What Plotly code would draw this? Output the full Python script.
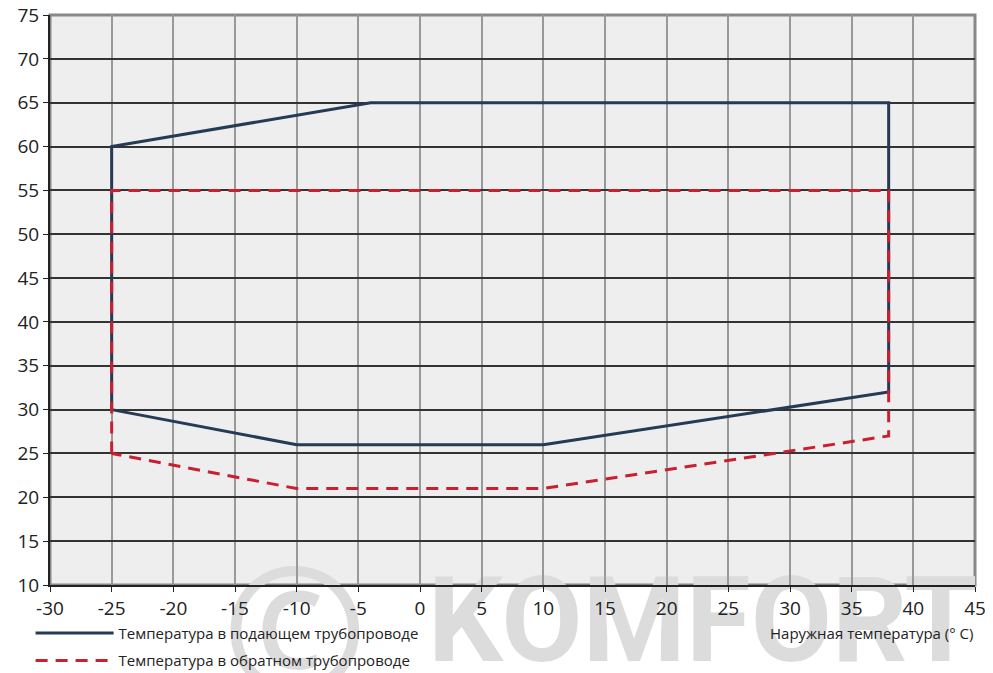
import plotly.graph_objects as go

# Data
supply_x = [-25, -25, -4, 38, 38, 10, -10, -25]
supply_y = [30, 60, 65, 65, 32, 26, 26, 30]
return_x = [-25, -25, 38, 38, 10, -10, -25]
return_y = [25, 55, 55, 27, 21, 21, 25]
series_names = ["Температура в подающем трубопроводе", "Температура в обратном трубопроводе"]
x_title = "Наружная температура (° C)"
x_ticks = list(range(-30, 46, 5))
y_ticks = list(range(10, 76, 5))
watermark_parts = ["©", "KOMFORT"]

FONT = "Open Sans"
WM = "#dcdcdc"
W, H = 993, 673
OFF = 8  # page body offset

fig = go.Figure()

# Watermark layer (drawn first, below the chart subplot); axes in picture pixels
fig.add_trace(go.Scatter(x=[222], y=[562], mode="text", text=[watermark_parts[0]],
                         textposition="bottom right", cliponaxis=False, showlegend=False,
                         hoverinfo="skip", xaxis="x", yaxis="y",
                         textfont=dict(family=FONT, size=175, color=WM, weight=600)))
fig.add_trace(go.Scatter(x=[428], y=[572], mode="text", text=[watermark_parts[1]],
                         textposition="bottom right", cliponaxis=False, showlegend=False,
                         hoverinfo="skip", xaxis="x", yaxis="y",
                         textfont=dict(family="Roboto", size=118, color=WM, weight=700)))

# Data series
fig.add_trace(go.Scatter(x=supply_x, y=supply_y, mode="lines", name=series_names[0],
                         legendgroup="a", xaxis="x2", yaxis="y2",
                         line=dict(color="#243a55", width=3)))
fig.add_trace(go.Scatter(x=return_x, y=return_y, mode="lines", name=series_names[1],
                         legendgroup="b", xaxis="x2", yaxis="y2",
                         line=dict(color="#c8202f", width=3, dash="12px,8px")))

xd = [(50 - OFF) / W, (975 - OFF) / W]
yd = [(H + OFF - 585) / H, (H + OFF - 15) / H]

fig.add_annotation(text=x_title, xref="x2 domain", yref="y2 domain", x=1.0, y=-0.064,
                   xanchor="right", yanchor="top", showarrow=False,
                   font=dict(family=FONT, size=15, color="#222"))

fig.update_layout(
    width=W, height=H,
    margin=dict(l=0, r=0, t=0, b=0, autoexpand=False),
    paper_bgcolor="white", plot_bgcolor="rgba(0,0,0,0)",
    font=dict(family=FONT, size=19, color="#222"),
    showlegend=True,
    legend=dict(x=(30.6 - OFF) / W, y=(H + OFF - 616.7) / H, xanchor="left", yanchor="top",
                font=dict(family=FONT, size=15, color="#222"),
                bgcolor="rgba(0,0,0,0)", tracegroupgap=5, itemwidth=78),
    xaxis=dict(domain=[0, 1], range=[OFF, W + OFF], visible=False, showgrid=False,
               zeroline=False, fixedrange=True),
    yaxis=dict(domain=[0, 1], range=[H + OFF, OFF], visible=False, showgrid=False,
               zeroline=False, fixedrange=True),
    xaxis2=dict(domain=xd, anchor="y2", range=[-30, 45], tickvals=x_ticks,
                ticktext=[str(v) for v in x_ticks],
                showgrid=True, gridcolor="#999999", gridwidth=2, ticklabeloverflow="allow",
                zeroline=False, showline=True, linecolor="#222", linewidth=2,
                ticks="outside", ticklen=5, tickcolor="#222", tickfont=dict(size=19)),
    yaxis2=dict(domain=yd, anchor="x2", range=[10, 75], tickvals=y_ticks,
                ticktext=[str(v) for v in y_ticks],
                showgrid=True, gridcolor="#333333", gridwidth=2, ticklabeloverflow="allow",
                zeroline=False, showline=True, linecolor="#222", linewidth=2,
                ticks="outside", ticklen=5, tickcolor="#222", tickfont=dict(size=19)),
)
# plot background and top/right border for the chart subplot
fig.add_shape(type="rect", xref="x2 domain", yref="y2 domain", x0=0, x1=1, y0=0, y1=1,
              fillcolor="#eeeeee", line=dict(color="#888888", width=3), layer="below")
fig.write_html("out.html")
